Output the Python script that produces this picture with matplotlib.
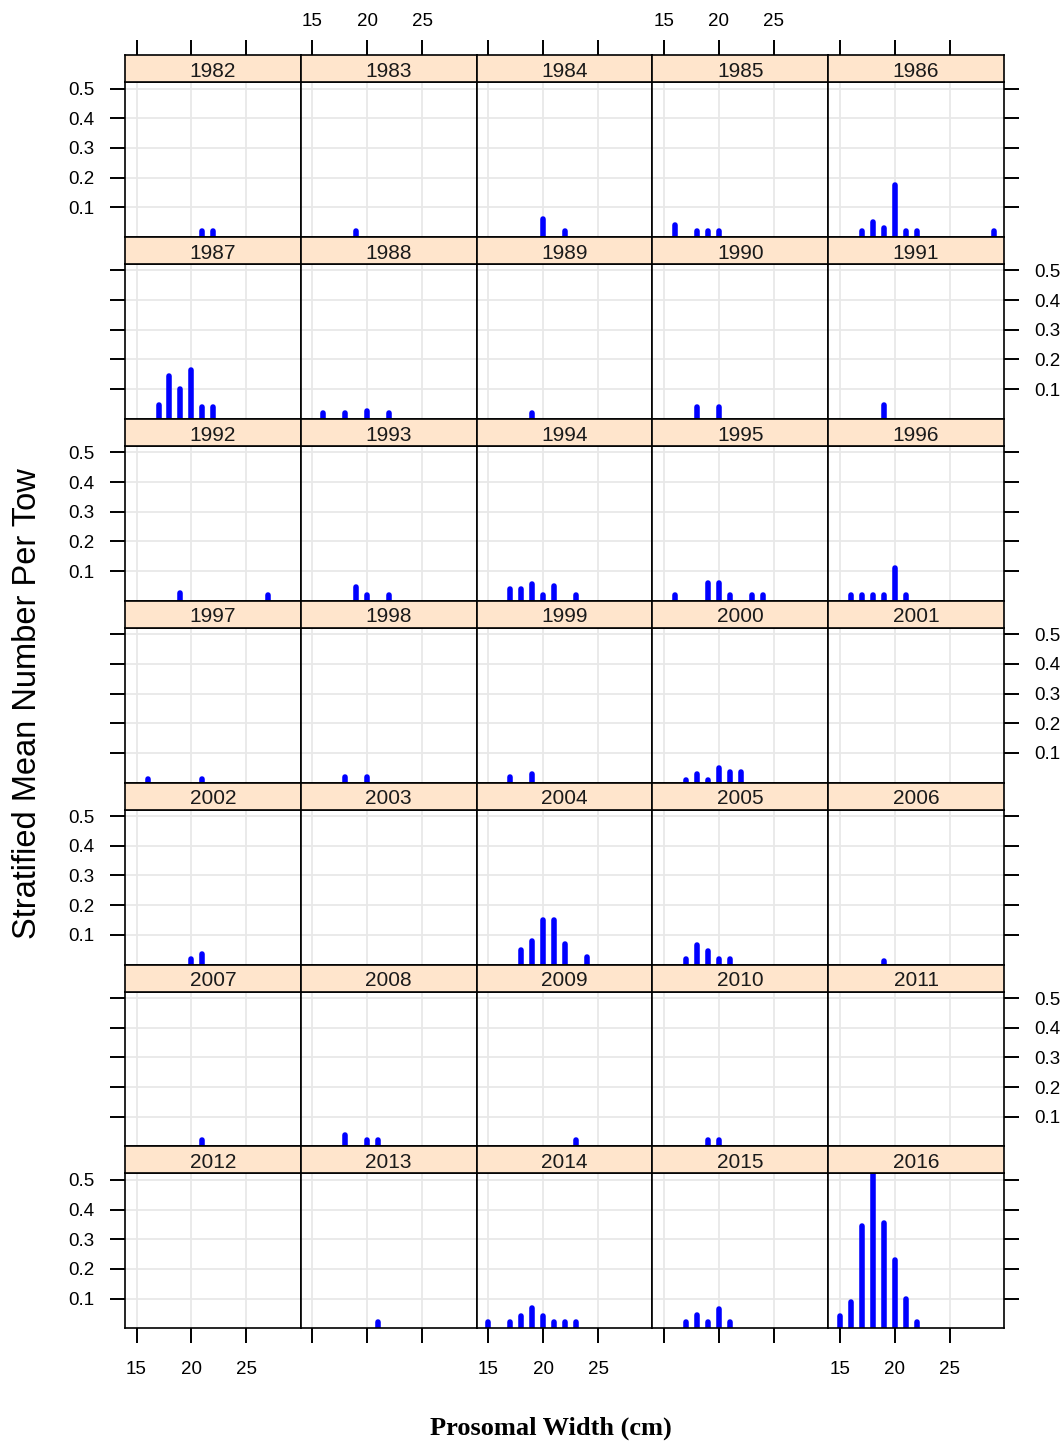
import matplotlib.pyplot as plt

# years shown in the lattice panels (as.table order, 5 per row)
years = list(range(1982, 2017))

# prosomal width classes (cm) with a nonzero catch in each year
widths = [
    [21, 22], [19], [20, 22], [16, 18, 19, 20], [17, 18, 19, 20, 21, 22, 29],
    [17, 18, 19, 20, 21, 22], [16, 18, 20, 22], [19], [18, 20], [19],
    [19, 27], [19, 20, 22], [17, 18, 19, 20, 21, 23], [16, 19, 20, 21, 23, 24], [16, 17, 18, 19, 20, 21],
    [16, 21], [18, 20], [17, 19], [17, 18, 19, 20, 21, 22], [],
    [20, 21], [], [18, 19, 20, 21, 22, 24], [17, 18, 19, 20, 21], [19],
    [21], [18, 20, 21], [23], [19, 20], [],
    [], [21], [15, 17, 18, 19, 20, 21, 22, 23], [17, 18, 19, 20, 21], [15, 16, 17, 18, 19, 20, 21, 22],
]

# stratified mean number per tow for each width class
values = [
    [0.02, 0.02], [0.02], [0.06, 0.02], [0.04, 0.02, 0.02, 0.02], [0.02, 0.05, 0.03, 0.175, 0.02, 0.02, 0.02],
    [0.045, 0.145, 0.10, 0.165, 0.04, 0.04], [0.02, 0.02, 0.025, 0.02], [0.02], [0.04, 0.04], [0.045],
    [0.025, 0.02], [0.045, 0.02, 0.02], [0.04, 0.04, 0.055, 0.02, 0.05, 0.02], [0.02, 0.06, 0.06, 0.02, 0.02, 0.02], [0.02, 0.02, 0.02, 0.02, 0.11, 0.02],
    [0.012, 0.012], [0.02, 0.02], [0.02, 0.03], [0.01, 0.03, 0.01, 0.05, 0.035, 0.035], [],
    [0.02, 0.035], [], [0.05, 0.08, 0.15, 0.15, 0.07, 0.025], [0.02, 0.065, 0.045, 0.02, 0.02], [0.012],
    [0.02], [0.04, 0.02, 0.02], [0.02], [0.02, 0.02], [],
    [], [0.02], [0.02, 0.02, 0.04, 0.07, 0.04, 0.02, 0.02, 0.02], [0.02, 0.045, 0.02, 0.065, 0.02], [0.04, 0.09, 0.345, 0.53, 0.355, 0.23, 0.10, 0.02],
]

x_ticks = [15, 20, 25]
y_ticks = [0.1, 0.2, 0.3, 0.4, 0.5]
y_ticklabels = ['0.1', '0.2', '0.3', '0.4', '0.5']

plt.rcParams['font.family'] = ['Liberation Sans', 'DejaVu Sans']

W, H = 1064, 1441
fig = plt.figure(figsize=(W / 100, H / 100), dpi=100)

ncol, nrow = 5, 7
left, col_w = 125, 175.8
top, row_h, strip_h = 55, 181.9, 27
panel_h = row_h - strip_h
xlim = (13.95, 29.95)
ylim = (0, 0.522)
tick_len = 10.8
tick_w = 1.4
frame_w = 1.2
fs_tick = 13.5


def box(x, y, w, h):
    # pixel box measured from the top-left corner -> figure fraction
    return [x / W, 1 - (y + h) / H, w / W, h / H]


for i, year in enumerate(years):
    r, c = divmod(i, ncol)
    x0 = left + c * col_w
    y0 = top + r * row_h

    ax = fig.add_axes(box(x0, y0 + strip_h, col_w, panel_h))
    ax.set_xlim(*xlim)
    ax.set_ylim(*ylim)
    ax.set_xticks(x_ticks)
    ax.set_xticklabels([str(t) for t in x_ticks])
    ax.set_yticks(y_ticks)
    ax.set_yticklabels(y_ticklabels)
    ax.set_axisbelow(True)
    ax.grid(color='#e8e8e8', lw=1.3)
    for s in ax.spines.values():
        s.set_linewidth(frame_w)

    if widths[i]:
        lc = ax.vlines(widths[i], 0, values[i], colors='blue', lw=4.0)
        lc.set_capstyle('round')

    is_left = c == 0
    is_right = c == ncol - 1
    is_bottom = r == nrow - 1
    ax.tick_params(axis='both', direction='out', length=tick_len, width=tick_w,
                   labelsize=fs_tick, colors='black', top=False, labeltop=False)
    ax.tick_params(axis='y', left=is_left, labelleft=is_left and r % 2 == 0,
                   right=is_right, labelright=is_right and r % 2 == 1, pad=11)
    ax.tick_params(axis='x', bottom=is_bottom, labelbottom=is_bottom and c % 2 == 0, pad=13)

    st = fig.add_axes(box(x0, y0, col_w, strip_h))
    st.set_facecolor('#ffe5cc')
    st.set_xlim(*xlim)
    st.set_ylim(0, 1)
    st.set_yticks([])
    for s in st.spines.values():
        s.set_linewidth(frame_w)
    if r == 0:
        st.set_xticks(x_ticks)
        st.set_xticklabels([str(t) for t in x_ticks])
        st.tick_params(axis='x', direction='out', length=tick_len, width=tick_w,
                       labelsize=fs_tick, bottom=False, labelbottom=False,
                       top=True, labeltop=c % 2 == 1, pad=7.5)
    else:
        st.set_xticks([])
    st.text(0.5, 0.4, str(year), transform=st.transAxes, ha='center', va='center',
            fontsize=15, color='#1a1a1a')

fig.text(28 / W, 1 - 704 / H, 'Stratified Mean Number Per Tow', rotation=90,
         ha='center', va='center', fontsize=23.5)
fig.text(551 / W, 1 - 1428 / H, 'Prosomal Width (cm)', ha='center', va='center',
         fontsize=19, fontweight='bold', family=['Liberation Serif', 'DejaVu Serif'])

fig.savefig('out.png', dpi=100)
